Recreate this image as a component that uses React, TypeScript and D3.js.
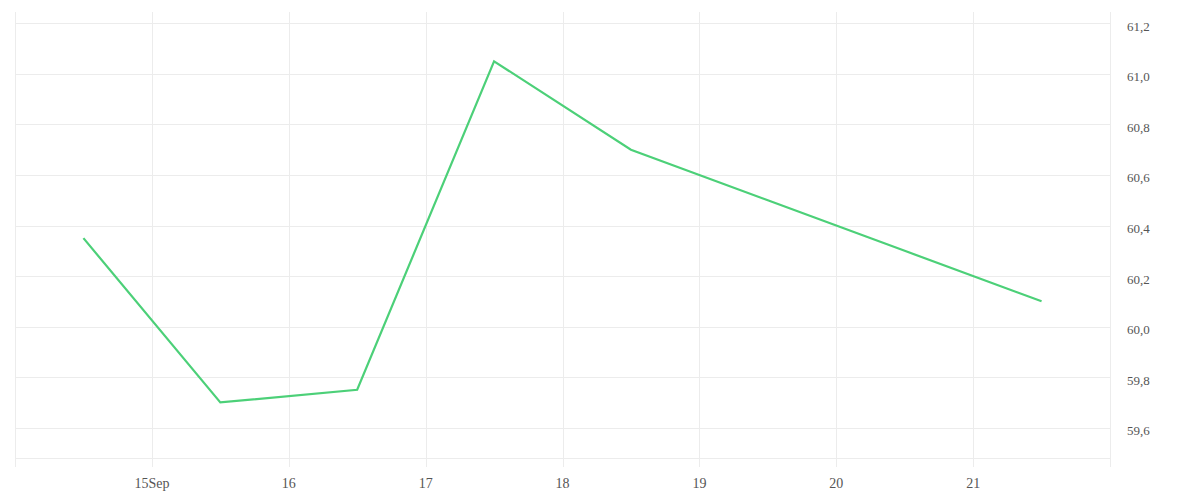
import * as d3 from 'd3';
import { useEffect, useRef } from 'react';

const WIDTH = 1200;
const HEIGHT = 500;
const LINE_COLOR = '#4cd078';
const GRID_COLOR = '#ececec';
const TEXT_COLOR = '#555';

// one value per day, sampled at noon
const dates = ['2023-09-14', '2023-09-15', '2023-09-16', '2023-09-17', '2023-09-18', '2023-09-19', '2023-09-20', '2023-09-21'];
const values = [60.35, 59.7, 59.75, 61.05, 60.7, 60.5, 60.3, 60.1];

const xTickDates = ['2023-09-15', '2023-09-16', '2023-09-17', '2023-09-18', '2023-09-19', '2023-09-20', '2023-09-21'];
const xTickLabels = ['15Sep', '16', '17', '18', '19', '20', '21'];
const yTicks = [59.6, 59.8, 60.0, 60.2, 60.4, 60.6, 60.8, 61.0, 61.2];

const parseDay = d3.timeParse('%Y-%m-%d');

const App = () => {
    const svgRef = useRef<SVGSVGElement>(null);

    useEffect(() => {
        if (!svgRef.current) return;
        const svg = d3.select(svgRef.current);
        svg.selectAll('*').remove();

        const left = 15;
        const right = 1110;
        const top = 12;
        const bottom = 458;

        const xScale = d3
            .scaleTime()
            .domain([parseDay('2023-09-14')!, parseDay('2023-09-22')!])
            .range([left, right]);
        const yScale = d3.scaleLinear().domain([59.48, 61.245]).range([bottom, top]);

        const points = dates.map((d, i) => ({ date: d3.timeHour.offset(parseDay(d)!, 12), value: values[i] }));
        const fmt = (v: number) => d3.format('.1f')(v).replace('.', ',');

        const g = svg.append('g');

        // horizontal grid
        g.selectAll('line.hgrid')
            .data(yTicks)
            .enter()
            .append('line')
            .attr('class', 'hgrid')
            .attr('x1', left)
            .attr('x2', right)
            .attr('y1', (d) => Math.round(yScale(d)) + 0.5)
            .attr('y2', (d) => Math.round(yScale(d)) + 0.5)
            .attr('stroke', GRID_COLOR);

        // bottom axis line
        g.append('line')
            .attr('x1', left)
            .attr('x2', right)
            .attr('y1', bottom + 0.5)
            .attr('y2', bottom + 0.5)
            .attr('stroke', GRID_COLOR);

        // vertical grid, one per day incl. both edges
        const dayLines = d3.timeDay.range(xScale.domain()[0], d3.timeDay.offset(xScale.domain()[1], 1));
        g.selectAll('line.vgrid')
            .data(dayLines)
            .enter()
            .append('line')
            .attr('class', 'vgrid')
            .attr('x1', (d) => Math.round(xScale(d)) + 0.5)
            .attr('x2', (d) => Math.round(xScale(d)) + 0.5)
            .attr('y1', top)
            .attr('y2', bottom + 9)
            .attr('stroke', GRID_COLOR);

        // x labels
        g.selectAll('text.xlab')
            .data(xTickDates)
            .enter()
            .append('text')
            .attr('class', 'xlab')
            .attr('x', (d) => xScale(parseDay(d)!))
            .attr('y', 488)
            .attr('text-anchor', 'middle')
            .attr('font-size', 14)
            .attr('fill', TEXT_COLOR)
            .text((_d, i) => xTickLabels[i]);

        // y labels on the right
        g.selectAll('text.ylab')
            .data(yTicks)
            .enter()
            .append('text')
            .attr('class', 'ylab')
            .attr('x', 1127)
            .attr('y', (d) => yScale(d) + 7.5)
            .attr('font-size', 13)
            .attr('fill', TEXT_COLOR)
            .text((d) => fmt(d));

        const line = d3
            .line<{ date: Date; value: number }>()
            .x((d) => xScale(d.date))
            .y((d) => yScale(d.value));

        g.append('path')
            .datum(points)
            .attr('d', line)
            .attr('fill', 'none')
            .attr('stroke', LINE_COLOR)
            .attr('stroke-width', 2.2);
    }, []);

    return (
        <svg
            ref={svgRef}
            width={WIDTH}
            height={HEIGHT}
            style={{ position: 'absolute', left: 0, top: 0, background: '#fff' }}
        ></svg>
    );
};

export default App;
